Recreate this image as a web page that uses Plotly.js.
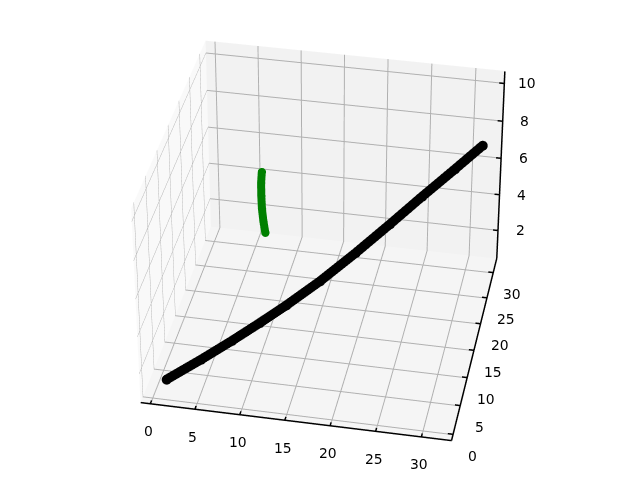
<!DOCTYPE html>
<html><head><meta charset="utf-8"><script src="https://cdn.plot.ly/plotly-3.0.0.min.js"></script>
<style>html,body{margin:0;padding:0;background:#fff;overflow:hidden;width:640px;height:480px}#c{position:absolute}</style></head><body><div id="c"></div>
<script>
const blackX=[1.3,4.45,7.3,9.9,12.4,15.6,19,22.3,25.4,28.6,31.3];
const blackY=[1.3,4.45,7.3,9.9,12.4,15.6,19,22.3,25.4,28.6,31.3];
const blackZ=[1.1,1.42,1.76,2.12,2.5,3.08,3.85,4.68,5.5,6.3,7];
const greenX=[7.75,7.55,7.4,7.35,7.35,7.45];
const greenY=[23,23,23,23,23,23];
const greenZ=[3.25,3.85,4.55,5.25,5.95,6.55];
const xTicks=[0,5,10,15,20,25,30];
const yTicks=[0,5,10,15,20,25,30];
const zTicks=[2,4,6,8,10];
const xRange=[-1.1,33.3], yRange=[-1.1,32.9], zRange=[0.4,10.65];

const W=3090,H=2318,cx=325,cy=235;
const el=document.getElementById('c');
el.style.left=(cx-W/2)+'px';el.style.top=(cy-H/2)+'px';
const elev=35*Math.PI/180, azim=-79*Math.PI/180, D=9;
const axis=(r,t,bg)=>({range:r,tickvals:t,title:{text:''},showticklabels:false,ticks:'',showline:false,zeroline:false,showspikes:false,showbackground:true,backgroundcolor:bg,gridcolor:'#b0b0b0',gridwidth:2});
const X0=xRange[0], X1=xRange[1], Y0=yRange[0], Y1=yRange[1], Z0=zRange[0];
const e=0.02;
const ax={x:[],y:[],z:[]};
const seg=(a,b)=>{ax.x.push(a[0],b[0],null);ax.y.push(a[1],b[1],null);ax.z.push(a[2],b[2],null)};
seg([X0+e,Y0+e,Z0+e],[X1-e,Y0+e,Z0+e]);
seg([X1-e,Y0+e,Z0+e],[X1-e,Y1-e,Z0+e]);
seg([X1-e,Y1-e,Z0+e],[X1-e,Y1-e,zRange[1]-e]);
xTicks.forEach(t=>seg([t,Y0+e,Z0+e],[t,Y0+0.6,Z0+e]));
yTicks.forEach(t=>seg([X1-e,t,Z0+e],[X1-0.6,t,Z0+e]));
zTicks.forEach(t=>seg([X1-e,Y1-e,t],[X1-0.6,Y1-e,t]));
const lab=(x,y,z,text,sx,sy)=>({x,y,z,text,showarrow:false,xshift:sx,yshift:-sy,xanchor:'center',yanchor:'middle',font:{family:'DejaVu Sans',size:13.9,color:'#000'}});
const ann=[].concat(
 xTicks.map(t=>lab(t,Y0,Z0,String(t),-2,27)),
 yTicks.map(t=>lab(X1,t,Z0,String(t),19,21)),
 zTicks.map(t=>lab(X1,Y1,t,String(t),22,0)));
Plotly.newPlot('c',[
{type:'scatter3d',mode:'lines',x:ax.x,y:ax.y,z:ax.z,line:{color:'#000',width:3},hoverinfo:'skip'},
{type:'scatter3d',mode:'lines+markers',x:blackX,y:blackY,z:blackZ,line:{color:'#000',width:19},marker:{color:'#000',size:5.8}},
{type:'scatter3d',mode:'lines+markers',x:greenX,y:greenY,z:greenZ,line:{color:'#008000',width:16},marker:{color:'#008000',size:4.8}}
],{width:W,height:H,showlegend:false,paper_bgcolor:'#fff',margin:{l:0,r:0,t:0,b:0},
scene:{domain:{x:[0,1],y:[0,1]},aspectmode:'manual',aspectratio:{x:1,y:1,z:0.75},annotations:ann,
 xaxis:axis(xRange,xTicks,'#f9f9f9'),yaxis:axis(yRange,yTicks,'#f2f2f2'),zaxis:axis(zRange,zTicks,'#f5f5f5'),
 camera:{projection:{type:'perspective'},eye:{x:D*Math.cos(elev)*Math.cos(azim),y:D*Math.cos(elev)*Math.sin(azim),z:D*Math.sin(elev)},center:{x:0,y:0,z:0},up:{x:0,y:0,z:1}}}},{displayModeBar:false});
</script></body></html>
